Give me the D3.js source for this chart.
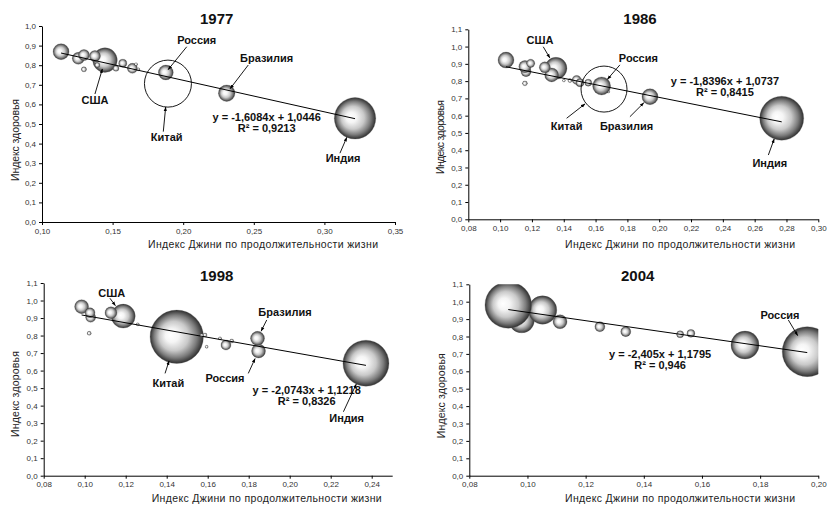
<!DOCTYPE html>
<html>
<head>
<meta charset="utf-8">
<script src="https://cdn.jsdelivr.net/npm/d3@7"></script>
<style>
  body { margin: 0; background: #fff; }
  svg { display: block; }
  text { font-family: "Liberation Sans", Arial, sans-serif; }
</style>
</head>
<body>
<svg id="chart" width="829" height="507"></svg>
<script>
// ---------- data: health index vs. Gini index of life expectancy ----------
const country1977 = ["США","Индия","","","","","","","","","","","","Россия","Китай","Бразилия"];
const gini1977    = [0.1446,0.3217,0.1135,0.1257,0.1297,0.1375,0.1297,0.1392,0.1524,0.1572,0.1640,0.1666,0.1682,0.1877,0.1892,0.2308];
const health1977  = [0.826,0.529,0.869,0.835,0.852,0.847,0.779,0.801,0.784,0.810,0.784,0.805,0.779,0.763,0.706,0.657];
const bubble1977  = [260,740,110,62,52,52,11,11,15,28,43,4,4,95,950,118];

const country1986 = ["Индия","США","","","","","","","","","","","","","","Россия","Бразилия","Китай"];
const gini1986    = [0.2770,0.1351,0.1324,0.1037,0.1163,0.1156,0.1192,0.1281,0.1156,0.1401,0.1439,0.1481,0.1502,0.1554,0.1680,0.1638,0.1942,0.1653];
const health1986  = [0.585,0.874,0.836,0.922,0.855,0.884,0.903,0.880,0.787,0.803,0.803,0.807,0.791,0.791,0.739,0.772,0.710,0.754];
const bubble1986  = [960,240,97,127,50,74,34,60,12,4,8,40,32,24,4,161,127,1050];

const country1998 = ["Китай","Индия","США","","","","","","","","","","","","","Россия","Бразилия"];
const gini1998    = [0.1449,0.2372,0.1188,0.0985,0.1029,0.1026,0.1022,0.1128,0.1259,0.1571,0.1587,0.1595,0.1660,0.1689,0.1717,0.1848,0.1843];
const health1998  = [0.793,0.642,0.911,0.965,0.904,0.930,0.813,0.930,0.864,0.800,0.803,0.736,0.784,0.746,0.769,0.712,0.784];
const bubble1998  = [1240,920,250,85,43,43,7,62,4,7,7,4,4,43,7,85,85];

const country2004 = ["","","","","","","","","","Россия"];
const gini2004    = [0.0980,0.1052,0.0934,0.1112,0.1249,0.1338,0.1525,0.1562,0.1748,0.1962];
const health2004  = [0.894,0.952,0.981,0.885,0.856,0.828,0.813,0.818,0.751,0.713];
const bubble2004  = [297,371,1000,90,46,46,23,29,361,1150];

// linear trend lines: slope, intercept, R²
const years      = ["1977","1986","1998","2004"];
const slopes     = [-1.6084,-1.8396,-2.0743,-2.405];
const intercepts = [1.0446,1.0737,1.1218,1.1795];
const rSquared   = [0.9213,0.8415,0.8326,0.946];

// tick values
const xTicks1977 = [0.10,0.15,0.20,0.25,0.30,0.35];
const xTicks1986 = [0.08,0.10,0.12,0.14,0.16,0.18,0.20,0.22,0.24,0.26,0.28,0.30];
const xTicks1998 = [0.08,0.10,0.12,0.14,0.16,0.18,0.20,0.22,0.24];
const xTicks2004 = [0.08,0.10,0.12,0.14,0.16,0.18,0.20];
const yTicks10   = [0,0.1,0.2,0.3,0.4,0.5,0.6,0.7,0.8,0.9,1.0];
const yTicks11   = [0,0.1,0.2,0.3,0.4,0.5,0.6,0.7,0.8,0.9,1.0,1.1];

const xAxisTitle = "Индекс Джини по продолжительности жизни";
const yAxisTitle = "Индекс здоровья";

// ---------- panel layout ----------
const panels = [
  { names: country1977, gini: gini1977, health: health1977, size: bubble1977,
    xTicks: xTicks1977, yTicks: yTicks10, xDomain: [0.10,0.35], yMax: 1.0,
    left: 42, right: 395, top: 26, bottom: 222, maxR: 23.5, hollow: "Китай",
    title: [216.7,19], xTitle: [263,244], yTitle: [15,140], yTitleLen: 82,
    eq: [0.2591,0.537],
    notes: [
      { t: "Россия",   l: [0.2096,0.929], s: [0.2025,0.894], f: 0.5 },
      { t: "Бразилия", l: [0.2591,0.835], s: [0.2461,0.801], f: 0.7 },
      { t: "США",      l: [0.1375,0.622], s: [0.1375,0.653], f: 0.75 },
      { t: "Китай",    l: [0.1883,0.435], s: [0.1859,0.461], f: 1.0 },
      { t: "Индия",    l: [0.3132,0.327], s: [0.3110,0.351], f: 1.0 }
    ] },
  { names: country1986, gini: gini1986, health: health1986, size: bubble1986,
    xTicks: xTicks1986, yTicks: yTicks11, xDomain: [0.08,0.30], yMax: 1.1,
    left: 468.3, right: 818.3, top: 29.3, bottom: 219.3, maxR: 23, hollow: "Китай",
    title: [640,19], xTitle: [680,244], yTitle: [440,137], yTitleLen: 74,
    eq: [0.2413,0.801],
    notes: [
      { t: "США",      l: [0.1251,1.038], s: [0.1271,0.999], f: 1.1 },
      { t: "Россия",   l: [0.1869,0.932], s: [0.1753,0.894], f: 1.0 },
      { t: "Китай",    l: [0.1418,0.540], s: [0.1418,0.585], f: 1.05 },
      { t: "Бразилия", l: [0.1795,0.540], s: [0.1816,0.594], f: 1.1 },
      { t: "Индия",    l: [0.2695,0.324], s: [0.2686,0.372], f: 1.0 }
    ] },
  { names: country1998, gini: gini1998, health: health1998, size: bubble1998,
    xTicks: xTicks1998, yTicks: yTicks11, xDomain: [0.08,0.25], yMax: 1.1,
    left: 43.7, right: 392.2, top: 283, bottom: 475.7, maxR: 26.7, hollow: null,
    title: [216.7,275.7], xTitle: [266.7,498], yTitle: [15,394], yTitleLen: 86,
    eq: [0.2083,0.489],
    notes: [
      { t: "США",      l: [0.1132,1.041], s: [0.1123,1.013], f: 1.1 },
      { t: "Бразилия", l: [0.1977,0.936], s: [0.1888,0.889], f: 1.15 },
      { t: "Китай",    l: [0.1408,0.527], s: [0.1392,0.584], f: 0.95 },
      { t: "Россия",   l: [0.1684,0.559], s: [0.1798,0.584], f: 1.2 },
      { t: "Индия",    l: [0.2278,0.328], s: [0.2262,0.365], f: 1.0 }
    ] },
  { names: country2004, gini: gini2004, health: health2004, size: bubble2004,
    xTicks: xTicks2004, yTicks: yTicks11, xDomain: [0.08,0.20], yMax: 1.1,
    left: 469.3, right: 818.3, top: 284.3, bottom: 475.7, maxR: 25, hollow: null,
    title: [637.7,275.7], xTitle: [680,498], yTitle: [441.7,395.7], yTitleLen: 85,
    eq: [0.1456,0.698],
    notes: [
      { t: "Россия",   l: [0.1868,0.924], s: [0.1897,0.895], f: 0.75 }
    ] }
];

const comma = v => String(v).replace(".", ",");
const fmtX = v => d3.format(".2f")(v).replace(".", ",");
const fmtY = v => d3.format(".1f")(v).replace(".", ",");

const svg = d3.select("#chart");
const defs = svg.append("defs");

// shaded sphere fill for bubbles
const grad = defs.append("radialGradient").attr("id", "sphere")
  .attr("cx", "50%").attr("cy", "50%").attr("r", "50%")
  .attr("fx", "38%").attr("fy", "47%");
[[0, "#ffffff"], [0.25, "#f5f5f5"], [0.55, "#c9c9c9"], [0.8, "#7c7c7c"], [1, "#2e2e2e"]]
  .forEach(([o, c]) => grad.append("stop").attr("offset", o).attr("stop-color", c));

defs.append("marker").attr("id", "arrow")
  .attr("viewBox", "0 0 10 10").attr("refX", 9).attr("refY", 5)
  .attr("markerWidth", 5).attr("markerHeight", 5).attr("orient", "auto")
  .append("path").attr("d", "M0,1.5L10,5L0,8.5Z").attr("fill", "#000");

panels.forEach((p, i) => {
  const x = d3.scaleLinear().domain(p.xDomain).range([p.left, p.right]);
  const y = d3.scaleLinear().domain([0, p.yMax]).range([p.bottom, p.top]);
  const r = d3.scaleSqrt().domain([0, d3.max(p.size)]).range([0, p.maxR]);
  const g = svg.append("g");

  defs.append("clipPath").attr("id", "plot" + i).append("rect")
    .attr("x", p.left).attr("y", p.top)
    .attr("width", p.right - p.left).attr("height", p.bottom - p.top);

  // axes
  const xa = g.append("g").attr("transform", `translate(0,${p.bottom})`)
    .call(d3.axisBottom(x).tickValues(p.xTicks).tickFormat(fmtX)
      .tickSize(3).tickSizeOuter(0).tickPadding(3));
  const ya = g.append("g").attr("transform", `translate(${p.left},0)`)
    .call(d3.axisLeft(y).tickValues(p.yTicks).tickFormat(fmtY)
      .tickSize(3).tickSizeOuter(0).tickPadding(3));
  [xa, ya].forEach(a => {
    a.select(".domain").attr("stroke", "#000").attr("stroke-width", 1);
    a.selectAll(".tick line").attr("stroke", "#000");
    a.selectAll(".tick text").attr("fill", "#333").style("font-size", "8px")
      .style("font-family", "'Liberation Sans', Arial, sans-serif");
  });

  // trend equation (sits beneath the bubbles)
  const eq = g.append("text").attr("text-anchor", "middle")
    .style("font-size", "11px").style("font-weight", "bold").attr("fill", "#111");
  eq.append("tspan").attr("x", x(p.eq[0])).attr("y", y(p.eq[1])).attr("dy", "0.35em")
    .text(`y = ${comma(slopes[i])}x + ${comma(intercepts[i])}`);
  eq.append("tspan").attr("x", x(p.eq[0])).attr("y", y(p.eq[1]) + 11).attr("dy", "0.35em")
    .text(`R² = ${comma(rSquared[i])}`);

  // bubbles
  const pts = p.gini.map((gx, k) => ({ x: gx, y: p.health[k], s: p.size[k], name: p.names[k] }));
  const hollow = d => d.name !== "" && d.name === p.hollow;
  g.append("g").attr("clip-path", `url(#plot${i})`)
    .selectAll("circle").data(pts).join("circle")
    .attr("cx", d => x(d.x)).attr("cy", d => y(d.y)).attr("r", d => r(d.s))
    .attr("fill", d => hollow(d) ? "none" : "url(#sphere)")
    .attr("stroke", d => hollow(d) ? "#000" : "#6a6a6a")
    .attr("stroke-width", d => hollow(d) ? 0.9 : 0.3);

  // linear trend line over the data range
  const [x0, x1] = d3.extent(p.gini);
  const fit = v => slopes[i] * v + intercepts[i];
  g.append("line")
    .attr("x1", x(x0)).attr("y1", y(fit(x0)))
    .attr("x2", x(x1)).attr("y2", y(fit(x1)))
    .attr("stroke", "#000").attr("stroke-width", 1);

  // country call-outs
  p.notes.forEach(n => {
    const d = pts.find(q => q.name === n.t);
    const cx = x(d.x), cy = y(d.y);
    const sx = x(n.s[0]), sy = y(n.s[1]);
    const len = Math.hypot(sx - cx, sy - cy);
    const k = r(d.s) * n.f / len;
    g.append("line")
      .attr("x1", sx).attr("y1", sy)
      .attr("x2", cx + (sx - cx) * k).attr("y2", cy + (sy - cy) * k)
      .attr("stroke", "#000").attr("stroke-width", 0.9)
      .attr("marker-end", "url(#arrow)");
    g.append("text").attr("x", x(n.l[0])).attr("y", y(n.l[1])).attr("dy", "0.35em")
      .attr("text-anchor", "middle").style("font-size", "11px").style("font-weight", "bold")
      .attr("fill", "#111").text(n.t);
  });

  // titles
  g.append("text").attr("x", p.title[0]).attr("y", p.title[1]).attr("dy", "0.36em")
    .attr("text-anchor", "middle").style("font-size", "15px").style("font-weight", "bold")
    .attr("fill", "#111").text(years[i]);
  g.append("text").attr("x", p.xTitle[0]).attr("y", p.xTitle[1]).attr("dy", "0.36em")
    .attr("text-anchor", "middle").style("font-size", "10.5px").attr("fill", "#222")
    .attr("textLength", 230).text(xAxisTitle);
  g.append("text").attr("transform", `translate(${p.yTitle[0]},${p.yTitle[1]}) rotate(-90)`)
    .attr("dy", "0.36em").attr("text-anchor", "middle")
    .style("font-size", "10.5px").attr("fill", "#222")
    .attr("textLength", p.yTitleLen).text(yAxisTitle);
});
</script>
</body>
</html>
